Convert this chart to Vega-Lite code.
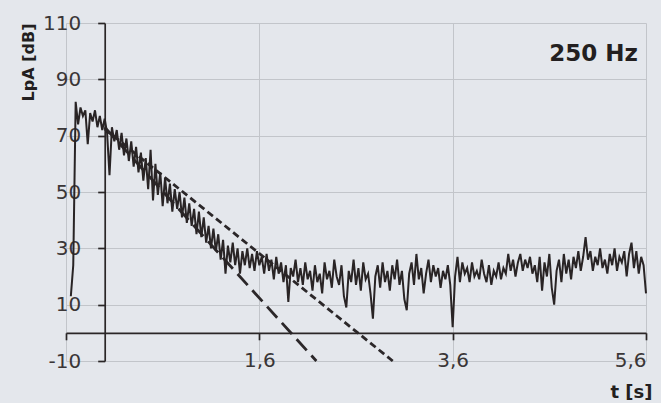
{
  "$schema": "https://vega.github.io/schema/vega-lite/v6.json",
  "width": 580,
  "height": 338,
  "autosize": {"type": "none"},
  "padding": {"left": 66, "top": 23, "right": 15, "bottom": 42},
  "background": "#e4e7ec",
  "title": {"text": "250 Hz", "anchor": "end", "frame": "group", "font": "DejaVu Sans", "fontSize": 23, "fontWeight": "bold", "color": "#231f20", "dx": -8, "dy": 57},
  "config": {
    "view": {"stroke": null},
    "axis": {
      "domainColor": "#2a2627", "domainWidth": 1.7,
      "tickColor": "#2a2627", "tickWidth": 1.7, "tickSize": 7,
      "gridColor": "#c2c5ca", "gridWidth": 1,
      "labelFont": "DejaVu Sans", "labelFontSize": 20, "labelColor": "#3a3637",
      "titleFont": "DejaVu Sans", "titleFontWeight": "bold", "titleColor": "#231f20"
    }
  },
  "datasets": {
    "decay": [
      {"t": -0.35, "L": 13}, {"t": -0.325, "L": 24}, {"t": -0.3, "L": 82}, {"t": -0.275, "L": 74}, {"t": -0.25, "L": 80},
      {"t": -0.225, "L": 77}, {"t": -0.2, "L": 79}, {"t": -0.175, "L": 67}, {"t": -0.15, "L": 78}, {"t": -0.125, "L": 75},
      {"t": -0.1, "L": 79}, {"t": -0.075, "L": 73}, {"t": -0.05, "L": 77}, {"t": -0.025, "L": 72}, {"t": 0.0, "L": 76},
      {"t": 0.025, "L": 71}, {"t": 0.05, "L": 56}, {"t": 0.075, "L": 73}, {"t": 0.1, "L": 68}, {"t": 0.125, "L": 72},
      {"t": 0.15, "L": 65}, {"t": 0.175, "L": 71}, {"t": 0.2, "L": 63}, {"t": 0.225, "L": 69}, {"t": 0.25, "L": 61},
      {"t": 0.275, "L": 68}, {"t": 0.3, "L": 59}, {"t": 0.325, "L": 66}, {"t": 0.35, "L": 57}, {"t": 0.375, "L": 64},
      {"t": 0.4, "L": 54}, {"t": 0.425, "L": 62}, {"t": 0.45, "L": 51}, {"t": 0.475, "L": 65}, {"t": 0.5, "L": 47},
      {"t": 0.525, "L": 60}, {"t": 0.55, "L": 49}, {"t": 0.575, "L": 57}, {"t": 0.6, "L": 45}, {"t": 0.625, "L": 55},
      {"t": 0.65, "L": 46}, {"t": 0.675, "L": 53}, {"t": 0.7, "L": 43}, {"t": 0.725, "L": 51}, {"t": 0.75, "L": 44},
      {"t": 0.775, "L": 50}, {"t": 0.8, "L": 41}, {"t": 0.825, "L": 48}, {"t": 0.85, "L": 39}, {"t": 0.875, "L": 46},
      {"t": 0.9, "L": 38}, {"t": 0.925, "L": 44}, {"t": 0.95, "L": 35}, {"t": 0.975, "L": 43}, {"t": 1.0, "L": 34},
      {"t": 1.025, "L": 41}, {"t": 1.05, "L": 32}, {"t": 1.075, "L": 38}, {"t": 1.1, "L": 30}, {"t": 1.125, "L": 37},
      {"t": 1.15, "L": 29}, {"t": 1.175, "L": 35}, {"t": 1.2, "L": 26}, {"t": 1.225, "L": 33}, {"t": 1.25, "L": 21},
      {"t": 1.275, "L": 31}, {"t": 1.3, "L": 25}, {"t": 1.325, "L": 32}, {"t": 1.35, "L": 24}, {"t": 1.375, "L": 30},
      {"t": 1.4, "L": 21}, {"t": 1.425, "L": 29}, {"t": 1.45, "L": 24}, {"t": 1.475, "L": 30}, {"t": 1.5, "L": 23},
      {"t": 1.525, "L": 28}, {"t": 1.55, "L": 22}, {"t": 1.575, "L": 29}, {"t": 1.6, "L": 24}, {"t": 1.625, "L": 27},
      {"t": 1.65, "L": 21}, {"t": 1.675, "L": 28}, {"t": 1.7, "L": 22}, {"t": 1.725, "L": 26}, {"t": 1.75, "L": 19},
      {"t": 1.775, "L": 27}, {"t": 1.8, "L": 21}, {"t": 1.825, "L": 25}, {"t": 1.85, "L": 18}, {"t": 1.875, "L": 24},
      {"t": 1.9, "L": 11}, {"t": 1.925, "L": 23}, {"t": 1.95, "L": 20}, {"t": 1.975, "L": 26}, {"t": 2.0, "L": 18},
      {"t": 2.025, "L": 23}, {"t": 2.05, "L": 17}, {"t": 2.075, "L": 25}, {"t": 2.1, "L": 19}, {"t": 2.125, "L": 22},
      {"t": 2.15, "L": 15}, {"t": 2.175, "L": 24}, {"t": 2.2, "L": 18}, {"t": 2.225, "L": 21}, {"t": 2.25, "L": 14},
      {"t": 2.275, "L": 25}, {"t": 2.3, "L": 19}, {"t": 2.325, "L": 22}, {"t": 2.35, "L": 16}, {"t": 2.375, "L": 26},
      {"t": 2.4, "L": 20}, {"t": 2.425, "L": 17}, {"t": 2.45, "L": 24}, {"t": 2.475, "L": 13}, {"t": 2.5, "L": 9},
      {"t": 2.525, "L": 22}, {"t": 2.55, "L": 18}, {"t": 2.575, "L": 26}, {"t": 2.6, "L": 17}, {"t": 2.625, "L": 23},
      {"t": 2.65, "L": 15}, {"t": 2.675, "L": 25}, {"t": 2.7, "L": 19}, {"t": 2.725, "L": 21}, {"t": 2.75, "L": 14},
      {"t": 2.775, "L": 5}, {"t": 2.8, "L": 20}, {"t": 2.825, "L": 24}, {"t": 2.85, "L": 16}, {"t": 2.875, "L": 25},
      {"t": 2.9, "L": 18}, {"t": 2.925, "L": 22}, {"t": 2.95, "L": 15}, {"t": 2.975, "L": 24}, {"t": 3.0, "L": 19},
      {"t": 3.025, "L": 26}, {"t": 3.05, "L": 17}, {"t": 3.075, "L": 22}, {"t": 3.1, "L": 12}, {"t": 3.125, "L": 8},
      {"t": 3.15, "L": 21}, {"t": 3.175, "L": 25}, {"t": 3.2, "L": 17}, {"t": 3.225, "L": 28}, {"t": 3.25, "L": 19},
      {"t": 3.275, "L": 23}, {"t": 3.3, "L": 14}, {"t": 3.325, "L": 21}, {"t": 3.35, "L": 26}, {"t": 3.375, "L": 18},
      {"t": 3.4, "L": 24}, {"t": 3.425, "L": 20}, {"t": 3.45, "L": 23}, {"t": 3.475, "L": 16}, {"t": 3.5, "L": 22},
      {"t": 3.525, "L": 19}, {"t": 3.55, "L": 24}, {"t": 3.575, "L": 17}, {"t": 3.6, "L": 2}, {"t": 3.625, "L": 20},
      {"t": 3.65, "L": 27}, {"t": 3.675, "L": 18}, {"t": 3.7, "L": 25}, {"t": 3.725, "L": 21}, {"t": 3.75, "L": 23},
      {"t": 3.775, "L": 18}, {"t": 3.8, "L": 25}, {"t": 3.825, "L": 20}, {"t": 3.85, "L": 22}, {"t": 3.875, "L": 19},
      {"t": 3.9, "L": 26}, {"t": 3.925, "L": 21}, {"t": 3.95, "L": 18}, {"t": 3.975, "L": 24}, {"t": 4.0, "L": 17},
      {"t": 4.025, "L": 22}, {"t": 4.05, "L": 20}, {"t": 4.075, "L": 25}, {"t": 4.1, "L": 19}, {"t": 4.125, "L": 23},
      {"t": 4.15, "L": 21}, {"t": 4.175, "L": 28}, {"t": 4.2, "L": 22}, {"t": 4.225, "L": 26}, {"t": 4.25, "L": 20},
      {"t": 4.275, "L": 25}, {"t": 4.3, "L": 28}, {"t": 4.325, "L": 22}, {"t": 4.35, "L": 26}, {"t": 4.375, "L": 23},
      {"t": 4.4, "L": 27}, {"t": 4.425, "L": 21}, {"t": 4.45, "L": 24}, {"t": 4.475, "L": 18}, {"t": 4.5, "L": 27},
      {"t": 4.525, "L": 15}, {"t": 4.55, "L": 25}, {"t": 4.575, "L": 20}, {"t": 4.6, "L": 28}, {"t": 4.625, "L": 16},
      {"t": 4.65, "L": 10}, {"t": 4.675, "L": 22}, {"t": 4.7, "L": 26}, {"t": 4.725, "L": 18}, {"t": 4.75, "L": 28},
      {"t": 4.775, "L": 21}, {"t": 4.8, "L": 26}, {"t": 4.825, "L": 19}, {"t": 4.85, "L": 27}, {"t": 4.875, "L": 23},
      {"t": 4.9, "L": 29}, {"t": 4.925, "L": 22}, {"t": 4.95, "L": 27}, {"t": 4.975, "L": 34}, {"t": 5.0, "L": 26},
      {"t": 5.025, "L": 29}, {"t": 5.05, "L": 22}, {"t": 5.075, "L": 27}, {"t": 5.1, "L": 24}, {"t": 5.125, "L": 30},
      {"t": 5.15, "L": 23}, {"t": 5.175, "L": 26}, {"t": 5.2, "L": 21}, {"t": 5.225, "L": 28}, {"t": 5.25, "L": 24},
      {"t": 5.275, "L": 30}, {"t": 5.3, "L": 22}, {"t": 5.325, "L": 27}, {"t": 5.35, "L": 25}, {"t": 5.375, "L": 29},
      {"t": 5.4, "L": 20}, {"t": 5.425, "L": 28}, {"t": 5.45, "L": 32}, {"t": 5.475, "L": 23}, {"t": 5.5, "L": 29},
      {"t": 5.525, "L": 21}, {"t": 5.55, "L": 27}, {"t": 5.575, "L": 24}, {"t": 5.6, "L": 14}
    ],
    "fits": [
      {"fit": "long", "t": 0.0, "L": 73},
      {"fit": "long", "t": 2.19, "L": -10},
      {"fit": "short", "t": 0.0, "L": 72.4},
      {"fit": "short", "t": 2.98, "L": -10}
    ]
  },
  "layer": [
    {
      "data": {"name": "fits"},
      "mark": {"type": "line", "color": "#2b2729", "strokeWidth": 2.8},
      "encoding": {
        "x": {"field": "t", "type": "quantitative", "scale": {"domain": [-0.4, 5.6], "nice": false, "zero": false},
          "axis": {"values": [-0.4, 1.6, 3.6, 5.6], "offset": -28.2, "labelPadding": 11,
            "labelExpr": "datum.value < 0 ? '' : replace(format(datum.value, '.1f'), '.', ',')",
            "title": "t [s]", "titleFontSize": 18, "titleAnchor": "end", "titleAlign": "right", "titleX": 586, "titleY": 60, "titleBaseline": "middle"}},
        "y": {"field": "L", "type": "quantitative", "scale": {"domain": [-10, 110], "nice": false, "zero": false},
          "axis": {"values": [-10, 10, 30, 50, 70, 90, 110], "offset": -38.7, "labelPadding": 17,
            "labelExpr": "datum.value < 0 ? '-' + abs(datum.value) : '' + datum.value",
            "title": "LpA [dB]", "titleFontSize": 16, "titleAnchor": "end", "titlePadding": 6}},
        "strokeDash": {"field": "fit", "type": "nominal", "scale": {"domain": ["long", "short"], "range": [[15, 7], [7, 4]]}, "legend": null}
      }
    },
    {
      "data": {"name": "decay"},
      "mark": {"type": "line", "color": "#292425", "strokeWidth": 2},
      "encoding": {
        "x": {"field": "t", "type": "quantitative"},
        "y": {"field": "L", "type": "quantitative"}
      }
    }
  ]
}
